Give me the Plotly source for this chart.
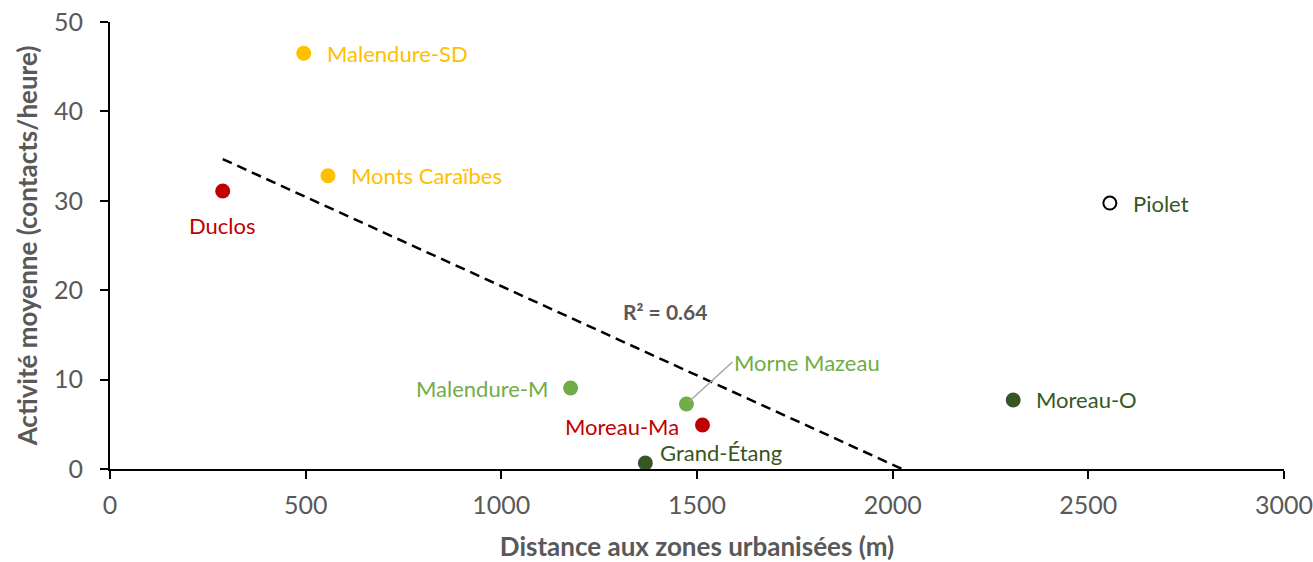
import numpy as np
import plotly.graph_objects as go

# ---- data ----
sites = ["Malendure-SD", "Monts Caraïbes", "Duclos", "Malendure-M", "Morne Mazeau",
         "Moreau-Ma", "Grand-Étang", "Moreau-O"]
distance = [495, 557, 288, 1177, 1473, 1514, 1368, 2308]
activite = [46.5, 32.8, 31.1, 9.06, 7.27, 4.92, 0.67, 7.72]
groupe = ["jaune", "jaune", "rouge", "vert", "vert", "rouge", "vertfonce", "vertfonce"]

outlier_site = ["Piolet"]
outlier_distance = [2555]
outlier_activite = [29.75]

x_ticks = [0, 500, 1000, 1500, 2000, 2500, 3000]
y_ticks = [0, 10, 20, 30, 40, 50]

colors = {"jaune": "#FFC000", "rouge": "#C00000", "vert": "#70AD47", "vertfonce": "#375623"}
FONT = "Lato"
GREY = "#595959"
LBL = 22

fig = go.Figure()

# trend line (linear fit, outlier excluded)
slope, intercept = np.polyfit(distance, activite, 1)
pred = slope * np.array(distance) + intercept
ss_res = np.sum((np.array(activite) - pred) ** 2)
ss_tot = np.sum((np.array(activite) - np.mean(activite)) ** 2)
r2 = 1 - ss_res / ss_tot
xl = np.array([min(distance), max(distance)])
fig.add_trace(go.Scatter(x=xl, y=slope * xl + intercept, mode="lines",
                         line=dict(color="black", width=2.5, dash="10px,6px"),
                         hoverinfo="skip", showlegend=False))

fig.add_trace(go.Scatter(x=distance, y=activite, mode="markers", text=sites,
                         marker=dict(size=15, color=[colors[g] for g in groupe]),
                         showlegend=False, cliponaxis=False))
fig.add_trace(go.Scatter(x=outlier_distance, y=outlier_activite, mode="markers",
                         text=outlier_site,
                         marker=dict(size=13, color="white", line=dict(color="black", width=2)),
                         showlegend=False))

# label placement (style)
place = {
    "Malendure-SD": dict(xanchor="left", xshift=21, yshift=0),
    "Monts Caraïbes": dict(xanchor="left", xshift=21, yshift=0),
    "Duclos": dict(xanchor="center", xshift=0, yshift=-35),
    "Malendure-M": dict(xanchor="right", xshift=-21, yshift=0),
    "Moreau-Ma": dict(xanchor="right", xshift=-21, yshift=-1),
    "Grand-Étang": dict(xanchor="left", xshift=13, yshift=11),
    "Moreau-O": dict(xanchor="left", xshift=21, yshift=0),
}
for s, xv, yv, g in zip(sites, distance, activite, groupe):
    if s == "Morne Mazeau":
        fig.add_annotation(x=xv, y=yv, text=s, showarrow=True, arrowhead=0,
                           arrowcolor="#A6A6A6", arrowwidth=1.5, ax=46, ay=-42,
                           xanchor="left", yanchor="middle", standoff=4,
                           font=dict(family=FONT, size=LBL, color=colors[g]))
    else:
        p = place[s]
        fig.add_annotation(x=xv, y=yv, text=s, showarrow=False, yanchor="middle",
                           font=dict(family=FONT, size=LBL, color=colors[g]), **p)
for s, xv, yv in zip(outlier_site, outlier_distance, outlier_activite):
    fig.add_annotation(x=xv, y=yv, text=s, showarrow=False, xanchor="left", xshift=21,
                       yanchor="middle", font=dict(family=FONT, size=LBL, color=colors["vertfonce"]))

fig.add_annotation(x=1417, y=17.6, text="<b>R² = %.2f</b>" % r2, showarrow=False,
                   font=dict(family=FONT, size=21, color=GREY))

axis_common = dict(showline=True, linecolor="black", linewidth=2, ticks="outside",
                   ticklen=8, tickwidth=2, tickcolor="black", showgrid=False, zeroline=False,
                   automargin=False, ticklabeloverflow="allow",
                   tickfont=dict(family=FONT, size=25, color=GREY))
fig.update_xaxes(range=[0, 3000], tickvals=x_ticks, ticklabelstandoff=5,
                 title=dict(text="<b>Distance aux zones urbanisées (m)</b>",
                            font=dict(family=FONT, size=26, color=GREY), standoff=23),
                 **axis_common)
fig.update_yaxes(range=[0, 50], tickvals=y_ticks, ticklabelstandoff=12,
                 title=dict(text="<b>Activité moyenne (contacts/heure)</b>",
                            font=dict(family=FONT, size=26, color=GREY), standoff=9),
                 **axis_common)

fig.update_layout(width=1313, height=562, margin=dict(l=110, r=29, t=22, b=93),
                  plot_bgcolor="white", paper_bgcolor="white", showlegend=False)

# remove the default page margin so the 1313x562 figure fills the window exactly
fig.write_html("out.html", config={"displayModeBar": False},
               post_script="document.body.style.margin='0';document.body.style.overflow='hidden';")
